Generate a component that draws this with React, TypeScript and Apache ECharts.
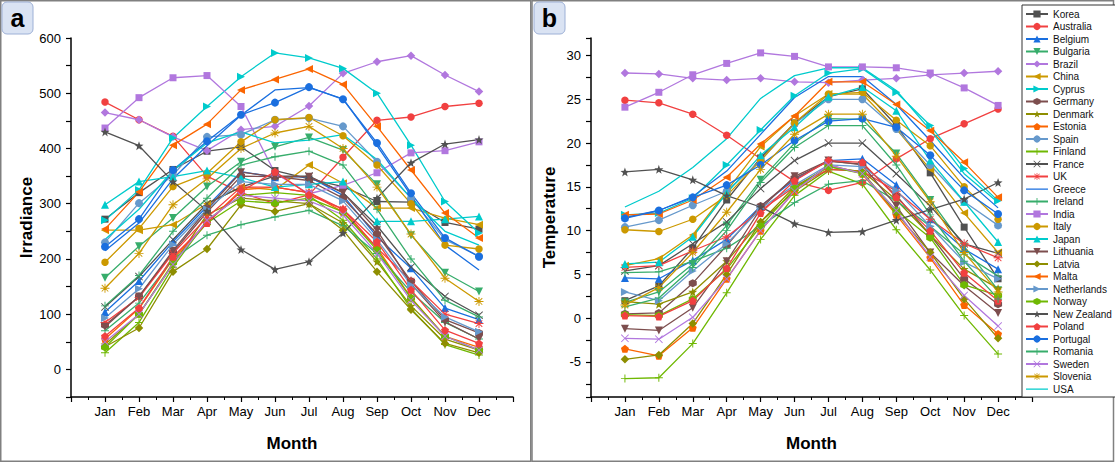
import React, { useEffect, useRef } from 'react';
import * as echarts from 'echarts';

const months = ['Jan', 'Feb', 'Mar', 'Apr', 'May', 'Jun', 'Jul', 'Aug', 'Sep', 'Oct', 'Nov', 'Dec'];

// Irradiance (panel a)
const irrKorea = [272, 320, 362, 395, 403, 360, 345, 331, 304, 303, 266, 254];
const irrAustralia = [484, 452, 422, 350, 320, 300, 316, 384, 451, 457, 476, 482];
const irrBelgium = [104, 160, 231, 295, 358, 348, 349, 315, 240, 183, 111, 90];
const irrBulgaria = [166, 223, 274, 331, 376, 403, 420, 397, 335, 243, 175, 141];
const irrBrazil = [465, 452, 421, 396, 434, 440, 477, 536, 557, 568, 533, 503];
const irrChina = [252, 252, 262, 300, 330, 325, 370, 337, 292, 292, 274, 262];
const irrCyprus = [270, 325, 419, 476, 530, 573, 564, 545, 500, 406, 304, 247];
const irrGermany = [80, 132, 212, 285, 350, 349, 342, 310, 245, 160, 90, 66];
const irrDenmark = [45, 100, 190, 280, 310, 305, 300, 265, 195, 115, 55, 35];
const irrEstonia = [55, 110, 200, 265, 325, 330, 320, 285, 220, 130, 60, 40];
const irrSpain = [230, 301, 352, 421, 425, 452, 455, 440, 376, 310, 235, 205];
const irrFinland = [30, 85, 185, 270, 315, 320, 315, 270, 200, 110, 45, 26];
const irrFrance = [113, 168, 235, 300, 330, 350, 350, 320, 260, 185, 132, 98];
const irrUK = [85, 130, 210, 275, 330, 330, 320, 290, 220, 160, 100, 83];
const irrGreece = [215, 265, 345, 405, 460, 506, 510, 490, 405, 315, 225, 180];
const irrIreland = [70, 120, 200, 243, 262, 276, 288, 260, 210, 140, 85, 55];
const irrIndia = [437, 492, 528, 532, 476, 355, 318, 333, 356, 392, 396, 412];
const irrItaly = [194, 255, 331, 355, 412, 452, 456, 423, 370, 300, 225, 218];
const irrJapan = [298, 340, 349, 360, 347, 330, 335, 340, 268, 268, 272, 277];
const irrLithuania = [77, 132, 215, 290, 357, 349, 349, 320, 252, 155, 86, 55];
const irrLatvia = [41, 75, 177, 218, 298, 286, 300, 252, 177, 108, 47, 30];
const irrMalta = [254, 321, 406, 444, 506, 525, 544, 516, 440, 361, 283, 238];
const irrNetherlands = [93, 146, 226, 290, 340, 335, 335, 305, 235, 153, 95, 68];
const irrNorway = [40, 100, 193, 265, 305, 301, 310, 285, 216, 129, 60, 35];
const irrNewZealand = [430, 405, 340, 287, 217, 181, 195, 247, 310, 374, 408, 416];
const irrPoland = [60, 111, 204, 265, 322, 358, 316, 290, 231, 144, 71, 47];
const irrPortugal = [222, 272, 361, 413, 461, 483, 511, 489, 410, 319, 238, 204];
const irrRomania = [115, 170, 250, 310, 370, 385, 395, 370, 290, 200, 125, 95];
const irrSweden = [50, 100, 190, 270, 315, 310, 305, 280, 210, 125, 60, 35];
const irrSlovenia = [147, 210, 298, 345, 400, 428, 440, 400, 330, 245, 165, 123];
const irrUSA = [235, 290, 360, 410, 430, 410, 415, 425, 380, 310, 250, 225];

// Temperature (panel b)
const tmpKorea = [2.0, 3.7, 8.0, 13.5, 18.3, 22.3, 25.3, 26.2, 22.0, 16.6, 10.4, 4.5];
const tmpAustralia = [24.9, 24.6, 23.3, 20.9, 18.2, 15.6, 14.6, 15.5, 18.2, 20.5, 22.2, 23.9];
const tmpBelgium = [4.6, 4.5, 6.6, 9.0, 12.8, 15.8, 18.0, 18.2, 15.2, 11.3, 7.9, 5.6];
const tmpBulgaria = [1.8, 3.0, 6.2, 10.6, 15.8, 20.0, 22.8, 22.7, 18.8, 13.5, 8.2, 3.2];
const tmpBrazil = [28.0, 27.9, 27.4, 27.2, 27.4, 27.0, 26.9, 27.2, 27.4, 27.8, 28.0, 28.2];
const tmpChina = [6.0, 6.8, 9.5, 14.5, 19.6, 23.1, 25.6, 25.6, 21.6, 17.0, 12.0, 7.5];
const tmpCyprus = [11.8, 12.0, 13.7, 17.5, 21.5, 25.4, 28.0, 28.5, 25.8, 22.0, 17.1, 13.4];
const tmpGermany = [0.5, 0.6, 4.0, 8.3, 12.8, 16.0, 17.9, 17.6, 14.0, 9.5, 4.5, 1.6];
const tmpDenmark = [1.9, 1.6, 3.0, 6.5, 11.0, 14.5, 17.0, 16.8, 13.5, 9.5, 5.6, 3.4];
const tmpEstonia = [-3.5, -4.3, -1.1, 4.5, 10.0, 14.5, 17.5, 16.5, 11.8, 6.9, 1.5, -1.8];
const tmpSpain = [10.4, 11.2, 12.9, 14.5, 18.0, 22.2, 25.0, 25.0, 21.6, 17.5, 13.3, 10.6];
const tmpFinland = [-6.9, -6.8, -2.9, 2.9, 9.0, 14.0, 16.8, 15.3, 10.1, 5.5, 0.3, -4.1];
const tmpFrance = [5.4, 6.0, 8.5, 11.0, 14.8, 18.0, 20.0, 20.0, 16.5, 12.8, 8.5, 7.4];
const tmpUK = [5.8, 6.0, 7.7, 9.3, 12.3, 15.0, 17.0, 16.8, 14.5, 11.3, 8.5, 6.9];
const tmpGreece = [11.5, 12.3, 13.9, 16.8, 21.0, 25.2, 27.6, 27.6, 24.4, 20.3, 16.0, 12.6];
const tmpIreland = [5.2, 5.3, 6.5, 8.0, 10.5, 13.2, 15.3, 15.7, 13.4, 10.5, 7.3, 4.8];
const tmpIndia = [24.1, 25.8, 27.8, 29.1, 30.3, 29.9, 28.7, 28.7, 28.6, 28.0, 26.3, 24.3];
const tmpItaly = [10.1, 9.9, 11.3, 14.0, 18.0, 22.3, 25.6, 25.8, 22.6, 19.7, 15.0, 11.3];
const tmpJapan = [6.2, 6.4, 9.3, 14.3, 18.6, 21.8, 25.3, 26.4, 23.7, 18.0, 13.3, 8.7];
const tmpLithuania = [-1.2, -1.4, 1.2, 6.5, 12.5, 16.2, 18.0, 17.5, 12.8, 7.5, 3.7, 0.6];
const tmpLatvia = [-4.7, -4.2, -0.6, 5.0, 11.0, 15.0, 17.3, 16.7, 12.0, 7.5, 2.2, -2.3];
const tmpMalta = [11.8, 11.9, 13.5, 16.1, 19.9, 23.1, 27.0, 27.0, 24.4, 21.4, 17.8, 13.8];
const tmpNetherlands = [3.0, 2.0, 5.4, 8.5, 12.5, 15.2, 17.5, 17.3, 14.6, 10.5, 6.4, 4.5];
const tmpNorway = [0.4, 0.3, 2.2, 5.6, 10.5, 14.8, 17.3, 16.5, 12.3, 9.2, 3.8, 2.6];
const tmpNewZealand = [16.7, 17.0, 15.8, 14.0, 12.7, 10.8, 9.8, 9.9, 11.2, 12.4, 13.6, 15.5];
const tmpPoland = [0.3, 0.2, 2.0, 5.7, 12.0, 15.7, 18.0, 17.8, 13.8, 10.0, 5.2, 2.0];
const tmpPortugal = [11.4, 12.3, 13.8, 15.2, 17.5, 20.3, 22.5, 22.8, 21.8, 18.6, 14.6, 11.9];
const tmpRomania = [1.3, 2.3, 5.8, 10.0, 15.5, 19.5, 22.0, 22.0, 17.5, 11.8, 6.5, 2.2];
const tmpSweden = [-2.3, -2.4, 0.1, 4.5, 10.0, 14.5, 17.5, 16.5, 12.3, 7.0, 2.6, -0.9];
const tmpSlovenia = [1.5, 3.5, 7.5, 12.1, 17.0, 21.0, 23.3, 23.3, 18.5, 13.3, 7.5, 3.0];
const tmpUSA = [12.7, 14.5, 17.2, 20.5, 25.1, 27.7, 28.6, 28.6, 26.0, 21.5, 16.5, 13.2];

const countryNames = ['Korea', 'Australia', 'Belgium', 'Bulgaria', 'Brazil', 'China', 'Cyprus', 'Germany', 'Denmark', 'Estonia', 'Spain', 'Finland', 'France', 'UK', 'Greece', 'Ireland', 'India', 'Italy', 'Japan', 'Lithuania', 'Latvia', 'Malta', 'Netherlands', 'Norway', 'New Zealand', 'Poland', 'Portugal', 'Romania', 'Sweden', 'Slovenia', 'USA'];
const irrSeries = [irrKorea, irrAustralia, irrBelgium, irrBulgaria, irrBrazil, irrChina, irrCyprus, irrGermany, irrDenmark, irrEstonia, irrSpain, irrFinland, irrFrance, irrUK, irrGreece, irrIreland, irrIndia, irrItaly, irrJapan, irrLithuania, irrLatvia, irrMalta, irrNetherlands, irrNorway, irrNewZealand, irrPoland, irrPortugal, irrRomania, irrSweden, irrSlovenia, irrUSA];
const tmpSeries = [tmpKorea, tmpAustralia, tmpBelgium, tmpBulgaria, tmpBrazil, tmpChina, tmpCyprus, tmpGermany, tmpDenmark, tmpEstonia, tmpSpain, tmpFinland, tmpFrance, tmpUK, tmpGreece, tmpIreland, tmpIndia, tmpItaly, tmpJapan, tmpLithuania, tmpLatvia, tmpMalta, tmpNetherlands, tmpNorway, tmpNewZealand, tmpPoland, tmpPortugal, tmpRomania, tmpSweden, tmpSlovenia, tmpUSA];

const palette = ['#515151', '#F14040', '#1A6FDF', '#37AD6B', '#B177DE', '#CC9900', '#00CBCC', '#7D4E4E', '#8E8E00', '#FB6501', '#6699CC', '#6FB802'];

const symHex = 'path://M0,-10L8.66,-5L8.66,5L0,10L-8.66,5L-8.66,-5Z';
const symStar = 'path://M0,-10L2.35,-3.24L9.51,-3.09L3.8,1.24L5.88,8.09L0,4L-5.88,8.09L-3.8,1.24L-9.51,-3.09L-2.35,-3.24Z';
const symPent = 'path://M0,-10L9.51,-3.09L5.88,8.09L-5.88,8.09L-9.51,-3.09Z';
const symPlus = 'path://M-1.2,-10H1.2V-1.2H10V1.2H1.2V10H-1.2V1.2H-10V-1.2H-1.2Z';
const symX = 'path://M-10,-8.4L-8.4,-10L0,-1.6L8.4,-10L10,-8.4L1.6,0L10,8.4L8.4,10L0,1.6L-8.4,10L-10,8.4L-1.6,0Z';
const symAst = 'path://M-1,-10H1V-1H10V1H1V10H-1V1H-10V-1H-1Z M-8,-6.6L-6.6,-8L0,-1.4L6.6,-8L8,-6.6L1.4,0L8,6.6L6.6,8L0,1.4L-6.6,8L-8,6.6L-1.4,0Z';
// legend icon for series drawn as a bare line (no marker)
const lineOnlyIcon = 'path://M0,3.9H22V5.2H0Z M0,0H0.01V0.01H0Z M21.99,9H22V9.01H21.99Z';

const markerCycle: [string, number, number][] = [
  ['rect', 0, 7], ['circle', 0, 7.5], ['triangle', 0, 8], ['triangle', 180, 8], ['diamond', 0, 8.5],
  ['triangle', 90, 8], ['triangle', -90, 8], [symHex, 0, 8], [symStar, 0, 9], [symPent, 0, 8],
  ['circle', 0, 8], [symPlus, 0, 8], [symX, 0, 8], [symAst, 0, 9], ['none', 0, 0], [symPlus, 0, 8],
];
function markerFor(i: number): [string, number, number] {
  return markerCycle[i < 16 ? i : i - 16];
}

const FONT = 'Arial, "Liberation Sans", Helvetica, sans-serif';

function xAxisFor(gi: number) {
  return {
    type: 'value', gridIndex: gi, min: 0, max: 13, interval: 1,
    axisLine: { show: true, onZero: false, lineStyle: { color: '#000', width: 1.5 } },
    axisTick: { show: true, length: 5, lineStyle: { color: '#000', width: 1.2 } },
    minorTick: { show: true, splitNumber: 2, length: 3, lineStyle: { color: '#000', width: 1 } },
    splitLine: { show: false },
    axisLabel: { formatter: (v: number) => months[v - 1] || '', fontSize: 13, color: '#000', fontFamily: FONT, margin: 8 },
    name: 'Month', nameLocation: 'middle', nameGap: 38,
    nameTextStyle: { fontSize: 17, fontWeight: 'bold', color: '#000', fontFamily: FONT },
  };
}

export default function App() {
  const ref = useRef<HTMLDivElement>(null);
  useEffect(() => {
    const chart = echarts.init(ref.current!, null, { renderer: 'svg' });
    const series: any[] = [];
    const legendData: any[] = [];
    countryNames.forEach((name, i) => {
      const [sym, rot, size] = markerFor(i);
      const color = palette[i % 12];
      const common = {
        type: 'line', name, symbol: sym, symbolRotate: rot, symbolSize: size,
        showSymbol: sym !== 'none',
        lineStyle: { color, width: 1.3 }, itemStyle: { color },
        emphasis: { disabled: true },
      };
      series.push({ ...common, xAxisIndex: 0, yAxisIndex: 0, data: irrSeries[i].map((v, k) => [k + 1, v]) });
      series.push({ ...common, xAxisIndex: 1, yAxisIndex: 1, data: tmpSeries[i].map((v, k) => [k + 1, v]) });
      legendData.push(sym === 'none' ? { name, icon: lineOnlyIcon, itemStyle: { color } } : { name });
    });
    const option: any = {
      animation: false,
      backgroundColor: '#fff',
      grid: [
        { left: 71, top: 38, width: 442, height: 359 },
        { left: 591, top: 38, width: 441, height: 359 },
      ],
      xAxis: [xAxisFor(0), xAxisFor(1)],
      yAxis: [
        {
          type: 'value', gridIndex: 0, min: -50, max: 600, interval: 50,
          axisLine: { show: true, lineStyle: { color: '#000', width: 1.5 } },
          axisTick: { show: true, length: 5, lineStyle: { color: '#000', width: 1.2 } },
          splitLine: { show: false },
          axisLabel: { formatter: (v: number) => (v >= 0 && v % 100 === 0 ? String(v) : ''), fontSize: 13, color: '#000', fontFamily: FONT, margin: 10 },
          name: 'Irradiance', nameLocation: 'middle', nameGap: 33,
          nameTextStyle: { fontSize: 17, fontWeight: 'bold', color: '#000', fontFamily: FONT },
        },
        {
          type: 'value', gridIndex: 1, min: -9, max: 32, minInterval: 2.5, maxInterval: 2.5, splitNumber: 16,
          axisLine: { show: true, lineStyle: { color: '#000', width: 1.5 } },
          axisTick: { show: true, length: 5, lineStyle: { color: '#000', width: 1.2 } },
          splitLine: { show: false },
          axisLabel: {
            formatter: (v: number) => (Math.abs(v % 5) < 1e-6 && v >= -5 && v <= 30 ? String(v) : ''),
            fontSize: 13, color: '#000', fontFamily: FONT, margin: 10,
          },
          name: 'Temperature', nameLocation: 'middle', nameGap: 33,
          nameTextStyle: { fontSize: 17, fontWeight: 'bold', color: '#000', fontFamily: FONT },
        },
      ],
      legend: {
        orient: 'vertical', left: 1022, top: 5,
        itemWidth: 22, itemHeight: 9, itemGap: 2.5,
        padding: [4, 5, 3, 3],
        backgroundColor: '#fff', borderColor: '#333', borderWidth: 1,
        textStyle: { fontSize: 10, fontFamily: FONT, color: '#111', lineHeight: 9 },
        data: legendData,
        selectedMode: false,
      },
      graphic: [
        { type: 'rect', silent: true, shape: { x: 0.75, y: 0.75, width: 530, height: 460.5 }, style: { fill: 'none', stroke: '#808080', lineWidth: 1.5 } },
        { type: 'rect', silent: true, shape: { x: 532, y: 0.75, width: 581.5, height: 460.5 }, style: { fill: 'none', stroke: '#808080', lineWidth: 1.5 } },
        { type: 'rect', silent: true, shape: { x: 2, y: 2, width: 31, height: 32, r: 5 }, style: { fill: '#dae3f3', stroke: '#9db0d6', lineWidth: 1 } },
        { type: 'text', silent: true, x: 17.5, y: 18, style: { text: 'a', font: 'bold 25px ' + FONT, fill: '#000', textAlign: 'center', textVerticalAlign: 'middle', align: 'center', verticalAlign: 'middle' } },
        { type: 'rect', silent: true, shape: { x: 534, y: 2, width: 31, height: 32, r: 5 }, style: { fill: '#dae3f3', stroke: '#9db0d6', lineWidth: 1 } },
        { type: 'text', silent: true, x: 549.5, y: 18, style: { text: 'b', font: 'bold 25px ' + FONT, fill: '#000', textAlign: 'center', textVerticalAlign: 'middle', align: 'center', verticalAlign: 'middle' } },
      ],
      series,
    };
    chart.setOption(option);
    return () => chart.dispose();
  }, []);
  return <div ref={ref} style={{ position: 'fixed', left: 0, top: 0, width: 1115, height: 464, background: '#fff' }} />;
}
